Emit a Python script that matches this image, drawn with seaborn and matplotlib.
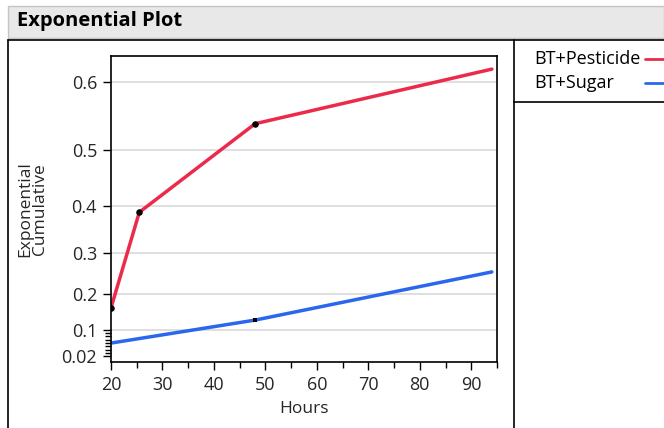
import numpy as np
import pandas as pd
import matplotlib
matplotlib.use("Agg")
import matplotlib.pyplot as plt
from matplotlib.lines import Line2D
from matplotlib.patches import Rectangle
import seaborn as sns

# values (cumulative probability)
hours_pest = [20, 25.5, 48, 94]
cum_pest = [0.162, 0.387, 0.541, 0.616]
hours_sugar = [20, 48, 94]
cum_sugar = [0.060, 0.128, 0.255]
groups = ["BT+Pesticide", "BT+Sugar"]
colors = ["#EC2A4C", "#2A67EE"]
ytick_vals = [0.02, 0.1, 0.2, 0.3, 0.4, 0.5, 0.6]
yminor_vals = [0.03, 0.04, 0.05, 0.06, 0.07, 0.08, 0.09]


def expo(p):
    # exponential probability scale: -log(1-p)
    return -np.log(1 - np.asarray(p))


df = pd.concat([
    pd.DataFrame({"Hours": hours_pest, "cum": cum_pest, "grp": groups[0]}),
    pd.DataFrame({"Hours": hours_sugar, "cum": cum_sugar, "grp": groups[1]}),
])
df["t"] = expo(df["cum"])

sns.set_theme(style="white")
plt.rcParams["font.family"] = ["Open Sans", "DejaVu Sans"]

W, H = 664, 428
fig = plt.figure(figsize=(W / 100, H / 100), dpi=100)


def fx(px):
    return px / W


def fy(py):
    return 1 - py / H


# title bar and frames
fig.patches.append(Rectangle((fx(8), fy(38)), fx(656), 32 / H, transform=fig.transFigure,
                             facecolor="#e8e8e8", edgecolor="#c4c4c4", lw=1))
fig.text(fx(17), fy(21), "Exponential Plot", fontsize=14.5, fontweight="bold", va="center", color="black")
for xs, ys in [([8, 664], [40, 40]), ([8, 8], [40, 428]), ([514, 514], [40, 428]), ([514, 664], [102, 102])]:
    fig.add_artist(Line2D([fx(v) for v in xs], [fy(v) for v in ys], color="black", lw=1.2))

# legend (drawn by hand, JMP style)
for i, (g, c) in enumerate(zip(groups, colors)):
    yy = fy(59 + 24 * i)
    fig.text(fx(534), yy, g, fontsize=13, va="center", color="black")
    fig.add_artist(Line2D([fx(645), fx(664)], [yy, yy], color=c, lw=2))

ax = fig.add_axes([fx(111), fy(362), fx(386), 306 / H])
sns.lineplot(data=df, x="Hours", y="t", hue="grp", palette=colors, lw=2.5,
             legend=False, ax=ax, estimator=None, sort=False)
pts = df[df["Hours"] < 90]
sns.scatterplot(data=pts[pts["grp"] == groups[0]], x="Hours", y="t", color="black",
                s=22, zorder=5, ax=ax, legend=False, linewidth=0)
sns.scatterplot(data=pts[(pts["grp"] == groups[1]) & (pts["Hours"] > 20)], x="Hours", y="t",
                color="black", s=5, marker="s", zorder=5, ax=ax, legend=False, linewidth=0)

ax.set_xlim(20, 95)
ax.set_ylim(0, 1.0)
ax.set_xticks(range(20, 91, 10))
ax.set_xticks(range(25, 96, 10), minor=True)
ax.set_yticks(expo(ytick_vals), [str(v) for v in ytick_vals])
ax.set_yticks(expo(yminor_vals), minor=True)
for v in ytick_vals[1:]:
    ax.axhline(expo(v), color="#d9d9d9", lw=1.2, zorder=0)
ax.tick_params(axis="both", which="major", direction="out", length=6, width=1, labelsize=13,
               color="black", bottom=True, left=True, pad=4)
ax.tick_params(axis="both", which="minor", direction="out", length=4, width=1,
               color="black", bottom=True, left=True)
for s in ax.spines.values():
    s.set_color("black")
    s.set_linewidth(1.2)
ax.set_xlabel("Hours", fontsize=12.5, labelpad=5)
ax.set_ylabel("Exponential\nCumulative", fontsize=12.5, labelpad=10, linespacing=0.85)

fig.savefig("out.png", dpi=100)
